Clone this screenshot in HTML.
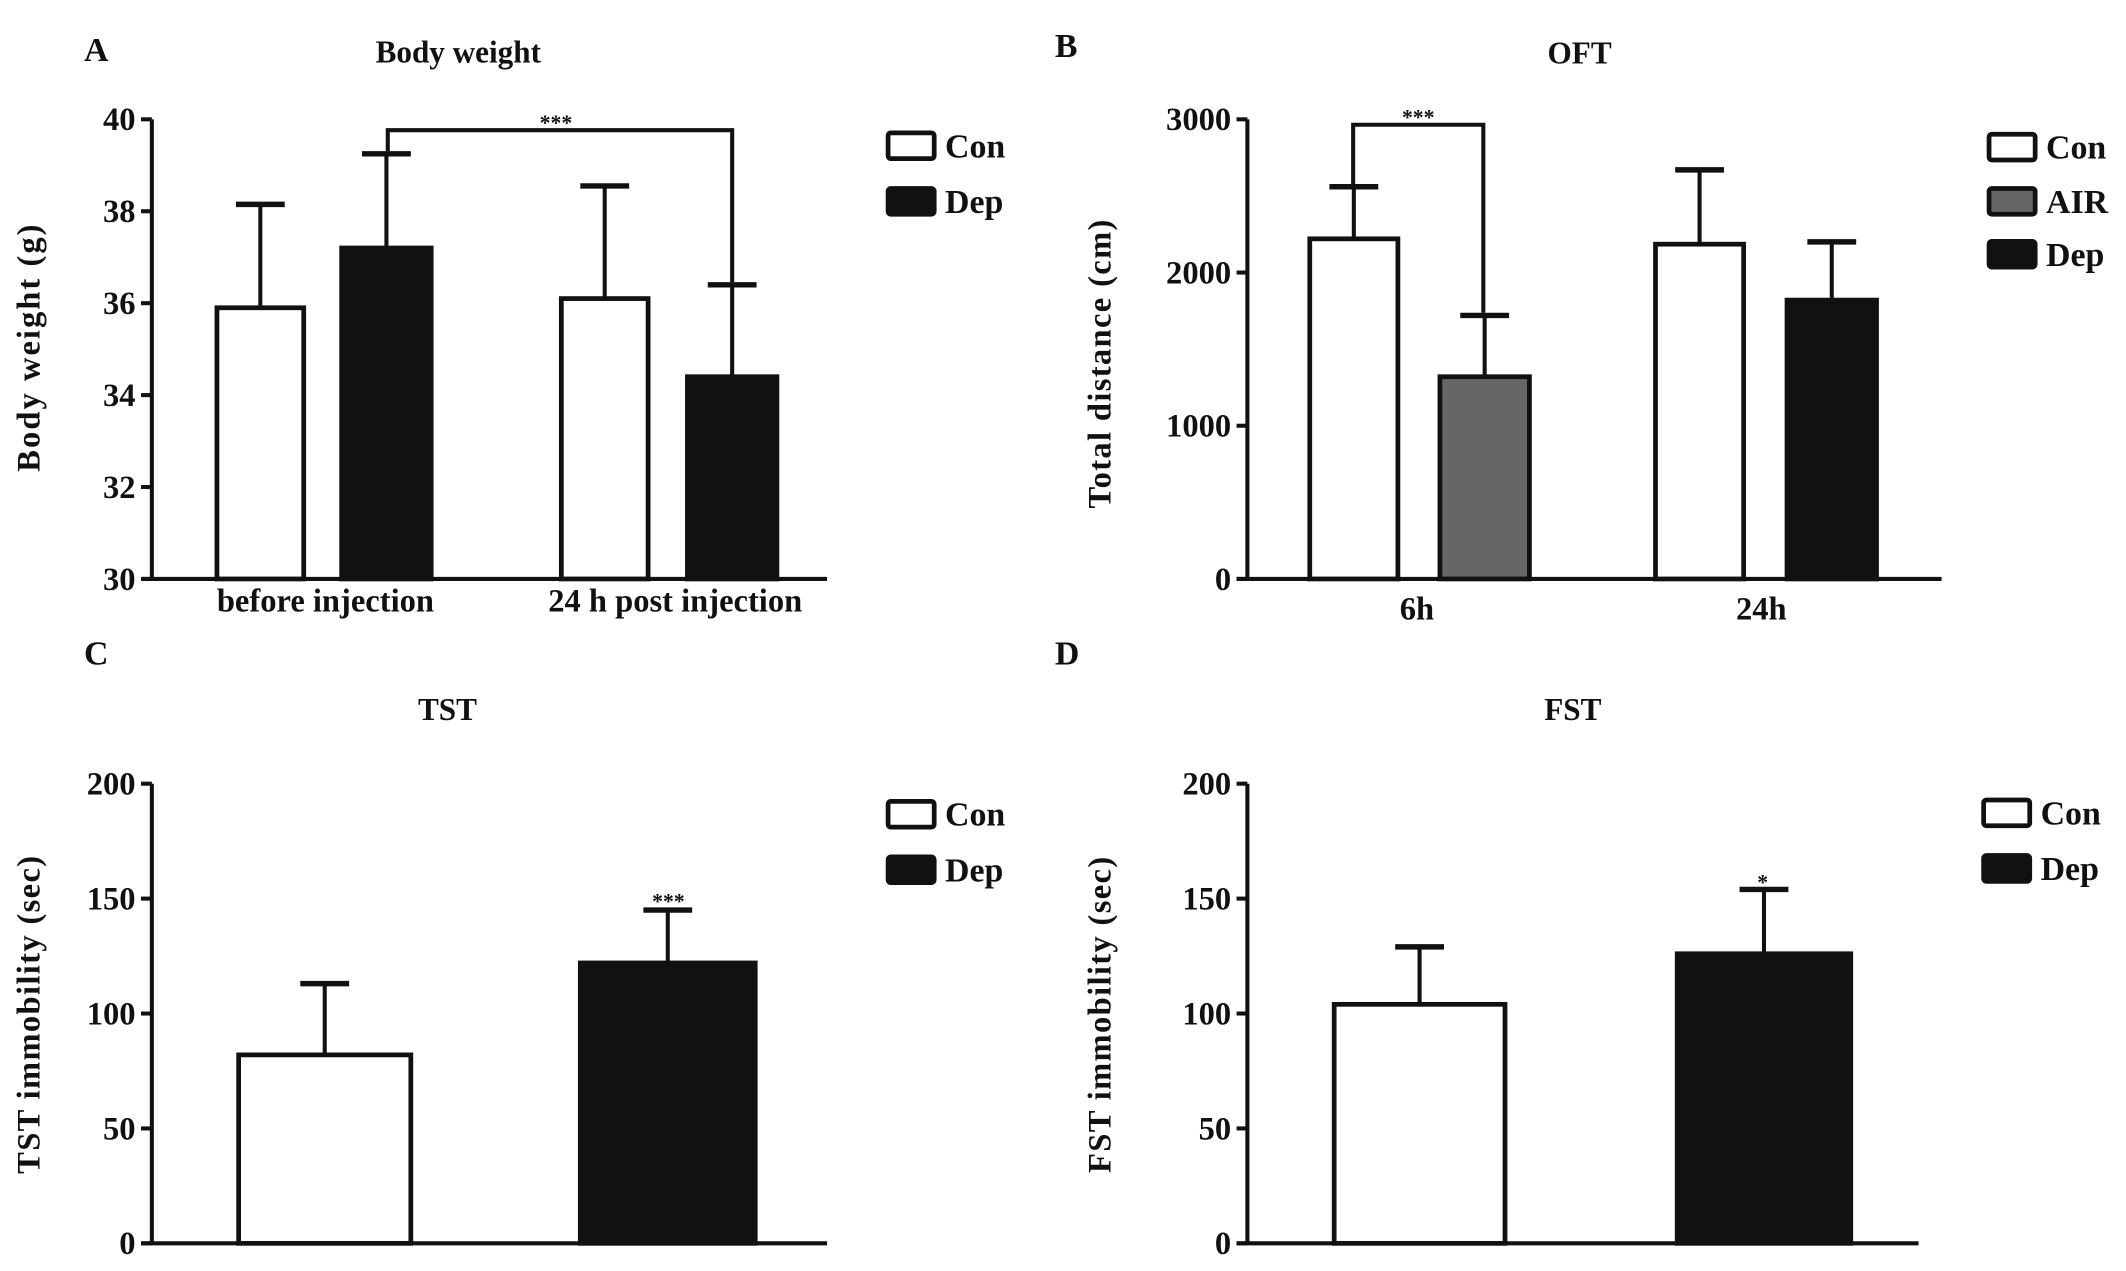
<!DOCTYPE html>
<html><head><meta charset="utf-8"><style>
html,body{margin:0;padding:0;background:#fff}
svg{display:block}
text{font-family:"Liberation Serif",serif;font-weight:bold;fill:#111}
</style></head><body>
<svg id="fig" width="2126" height="1271" viewBox="0 0 1568 937.4" preserveAspectRatio="none" xmlns="http://www.w3.org/2000/svg"></svg>
<script>
// Panel A data
const aCategories = ["before injection", "24 h post injection"];
const aCon = [35.9, 36.1];
const aConErr = [38.15, 38.55];
const aDep = [37.2, 34.4];
const aDepErr = [39.25, 36.4];
const aTicks = [30, 32, 34, 36, 38, 40];
// Panel B data
const bCategories = ["6h", "24h"];
const bCon = [2220, 2185];
const bConErr = [2560, 2670];
const bOther = [1320, 1820];
const bOtherErr = [1720, 2200];
const bTicks = [0, 1000, 2000, 3000];
// Panel C data
const cCon = [82];
const cConErr = [113];
const cDep = [122];
const cDepErr = [145];
const cTicks = [0, 50, 100, 150, 200];
// Panel D data
const dCon = [104];
const dConErr = [129];
const dDep = [126];
const dDepErr = [154];
const dTicks = [0, 50, 100, 150, 200];

const svg = document.getElementById('fig');
const NS = 'http://www.w3.org/2000/svg';
function el(tag, attrs, txt){
  const e = document.createElementNS(NS, tag);
  for (const k in attrs) e.setAttribute(k, attrs[k]);
  if (txt !== undefined) e.textContent = txt;
  svg.appendChild(e);
  return e;
}
function scale(min, max, y0, y1){ return v => y0 + (v - min) / (max - min) * (y1 - y0); }

function axes(x0, xEnd, yTop, yBot, ticks, name){
  const y = scale(ticks[0], ticks[ticks.length-1], yBot, yTop);
  const ax = el('line', {x1:x0, y1:yTop, x2:x0, y2:yBot, stroke:'#111','stroke-width':3});
  
  
  const bx = el('line', {x1:x0-8, y1:yBot, x2:xEnd, y2:yBot, stroke:'#111','stroke-width':3});
  
  
  ticks.forEach(t => {
    const tk = el('line', {x1:x0-8, y1:y(t), x2:x0, y2:y(t), stroke:'#111','stroke-width':3});
    
    
    const tl = el('text', {x:x0-12, y:y(t)+8, 'text-anchor':'end','font-size':24}, String(t));
    
    
  });
  return y;
}
function drawBar(x, w, v, err, y, base, fill, name){
  const ev = el('line', {x1:x+w/2, y1:y(v), x2:x+w/2, y2:y(err), stroke:'#111','stroke-width':3});
  
  
  const cap = el('line', {x1:x+w/2-18, y1:y(err), x2:x+w/2+18, y2:y(err), stroke:'#111','stroke-width':4});
  
  
  const r = el('rect', {x:x, y:y(v), width:w, height:y(base)-y(v), fill:fill, stroke:'#111','stroke-width':3.5});
  
  
}
function txt(x, y, s, size, name, anchor, rot, ls){
  const a = {x:x, y:y, 'font-size':size, 'text-anchor':anchor||'middle'};
  if (rot) a.transform = 'rotate(-90 '+x+' '+y+')';
  if (ls) a['letter-spacing'] = ls;
  const t = el('text', a, s);
  
  
}
function legend(x, ys, labels, fills, name){
  labels.forEach((l, i) => {
    const r = el('rect', {x:x, y:ys[i], width:34, height:19, fill:fills[i], stroke:'#111','stroke-width':3.5, rx:2});
    
    
    txt(x+42, ys[i]+18, l, 25, name + '-legend-label-' + l.toLowerCase(), 'start');
  });
}

// Panel A
(function(){
  const y = axes(112, 610, 88, 427, aTicks, 'a');
  const xs = [[160, 252], [414, 507]];
  aCategories.forEach((c, i) => {
    drawBar(xs[i][0], 64, aCon[i], aConErr[i], y, 30, '#fff', 'a-bar-con-' + i);
    drawBar(xs[i][1], 66, aDep[i], aDepErr[i], y, 30, '#111', 'a-bar-dep-' + i);
    txt([240, 498][i], 451, c, 24, 'a-x-label-' + i);
  });
  const br = el('polyline', {points:'286,'+(y(aDepErr[0])-2)+' 286,96 540,96 540,'+(y(aDepErr[1])-2), fill:'none', stroke:'#111','stroke-width':3});
  
  
  txt(410, 96, '***', 16, 'a-significance-stars');
  txt(338, 46, 'Body weight', 23, 'a-title');
  txt(62, 45, 'A', 25, 'a-panel-label', 'start');
  txt(29, 256, 'Body weight (g)', 24, 'a-y-axis-title', 'middle', true, 1.5);
  legend(655, [98, 139], ['Con', 'Dep'], ['#fff', '#111'], 'a');
})();

// Panel B
(function(){
  const y = axes(920, 1432, 88, 427, bTicks, 'b');
  const xs = [[966, 1062], [1221, 1318]];
  const fills = ['#666', '#111'];
  bCategories.forEach((c, i) => {
    drawBar(xs[i][0], 65, bCon[i], bConErr[i], y, 0, '#fff', 'b-bar-con-' + i);
    drawBar(xs[i][1], 66, bOther[i], bOtherErr[i], y, 0, fills[i], i ? 'b-bar-dep' : 'b-bar-air');
    txt([1045, 1299][i], 457, c, 24, 'b-x-label-' + i);
  });
  const br = el('polyline', {points:'998,'+(y(bConErr[0])-2)+' 998,92 1094,92 1094,'+(y(bOtherErr[0])-2), fill:'none', stroke:'#111','stroke-width':3});
  
  
  txt(1046, 92, '***', 16, 'b-significance-stars');
  txt(1165, 47, 'OFT', 23, 'b-title');
  txt(778, 42, 'B', 25, 'b-panel-label', 'start');
  txt(819, 268, 'Total distance (cm)', 24, 'b-y-axis-title', 'middle', true, 1);
  legend(1467, [99, 139, 178], ['Con', 'AIR', 'Dep'], ['#fff', '#666', '#111'], 'b');
})();

// Panel C
(function(){
  const y = axes(112, 610, 578, 917, cTicks, 'c');
  drawBar(176, 127, cCon[0], cConErr[0], y, 0, '#fff', 'c-bar-con');
  drawBar(428, 129, cDep[0], cDepErr[0], y, 0, '#111', 'c-bar-dep');
  txt(493, 670, '***', 16, 'c-significance-stars');
  txt(330, 531, 'TST', 23, 'c-title');
  txt(62, 490, 'C', 25, 'c-panel-label', 'start');
  txt(29, 748, 'TST immobility (sec)', 24, 'c-y-axis-title', 'middle', true, 1);
  legend(655, [591, 632], ['Con', 'Dep'], ['#fff', '#111'], 'c');
})();

// Panel D
(function(){
  const y = axes(920, 1415, 578, 917, dTicks, 'd');
  drawBar(984, 126, dCon[0], dConErr[0], y, 0, '#fff', 'd-bar-con');
  drawBar(1237, 128, dDep[0], dDepErr[0], y, 0, '#111', 'd-bar-dep');
  txt(1300, 656, '*', 16, 'd-significance-stars');
  txt(1160, 531, 'FST', 23, 'd-title');
  txt(778, 490, 'D', 25, 'd-panel-label', 'start');
  txt(819, 748, 'FST immobility (sec)', 24, 'd-y-axis-title', 'middle', true, 1);
  legend(1463, [590, 631], ['Con', 'Dep'], ['#fff', '#111'], 'd');
})();
</script>
</body></html>
